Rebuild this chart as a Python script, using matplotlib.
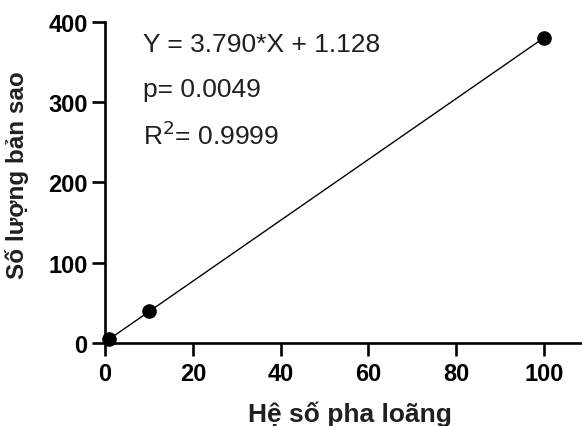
import matplotlib
matplotlib.use("Agg")
import matplotlib.pyplot as plt
import numpy as np

plt.rcParams['font.family'] = ['Liberation Sans', 'DejaVu Sans']

dilution = [1, 10, 100]
copies = [4.5, 39.5, 380]
slope = 3.790
intercept = 1.128
xticks = [0, 20, 40, 60, 80, 100]
yticks = [0, 100, 200, 300, 400]
eq_text = "Y = 3.790*X + 1.128"
p_text = "p= 0.0049"
r2_text = "R$^2$= 0.9999"

W, H = 582, 427
fig = plt.figure(figsize=(W/100, H/100), dpi=100)
x0, x1 = 105, 588
y0, y1 = 344, 22.7
ax = fig.add_axes([x0/W, (H-y0)/H, (x1-x0)/W, (y0-y1)/H])
ax.set_xlim(0, 110)
ax.set_ylim(0, 400)

xl = np.array([dilution[0], dilution[-1]])
ax.plot(xl, slope*xl + intercept, color='black', lw=1.0, clip_on=False, zorder=2)
ax.plot(dilution, copies, 'o', color='black', ms=9.5, clip_on=False, zorder=3)

for s in ['top', 'right']:
    ax.spines[s].set_visible(False)
for s in ['left', 'bottom']:
    ax.spines[s].set_linewidth(1.9)
ax.tick_params(width=1.9, length=9.5, labelsize=17, pad=3)
ax.tick_params(axis='x', pad=4)
ax.set_xticks(xticks)
ax.set_yticks(yticks)
for lab in ax.get_xticklabels() + ax.get_yticklabels():
    lab.set_fontweight('bold')

ax.set_xlabel("Hệ số pha loãng", fontsize=19, fontweight='bold', color='#231f20')
ax.set_ylabel("Số lượng bản sao", fontsize=17.5, fontweight='bold', color='#231f20')
ax.xaxis.set_label_coords((349.5 - x0)/(x1 - x0), -(422 - y0)/(y0 - y1), transform=ax.transAxes)
ax.xaxis.label.set_va('baseline')
ax.yaxis.set_label_coords(-(105 - 17.5)/(x1 - x0), (y0 - 175)/(y0 - y1))
ax.yaxis.label.set_va('center')

tx = 8.6
ax.text(tx, 364, eq_text, fontsize=19, va='baseline', color='#231f20')
ax.text(tx, 308, p_text, fontsize=19, va='baseline', color='#231f20')
ax.text(tx, 248, r2_text, fontsize=19, va='baseline', color='#231f20')

fig.savefig("out.png", dpi=100)
